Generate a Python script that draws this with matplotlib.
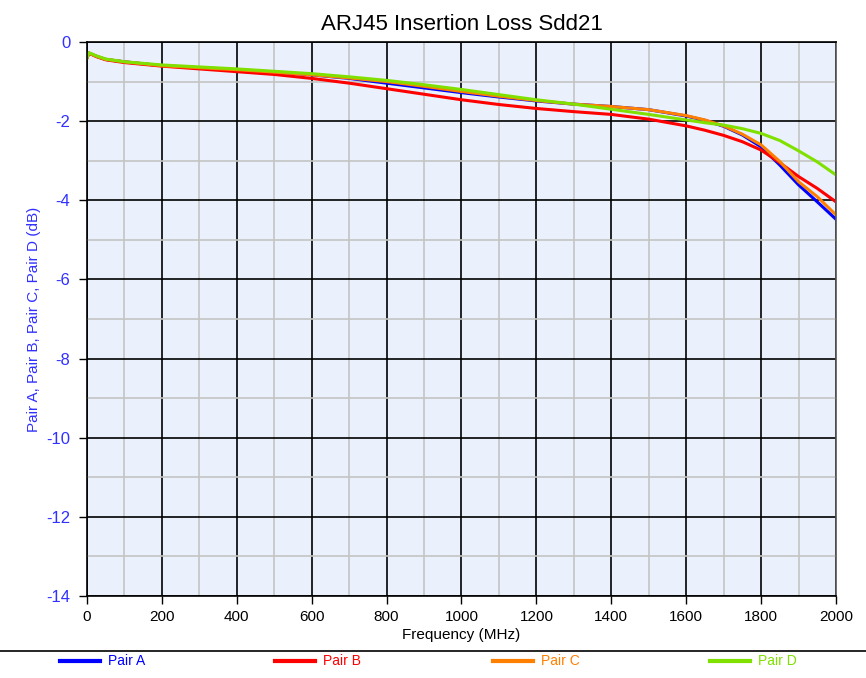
import numpy as np
import matplotlib.pyplot as plt
from matplotlib.lines import Line2D

plt.rcParams["axes.unicode_minus"] = False

# frequency points (MHz) and insertion loss per pair (dB)
freq = [0, 5, 25, 50, 100, 200, 300, 400, 500, 600, 700, 800, 900, 1000,
        1100, 1200, 1300, 1400, 1500, 1600, 1650, 1700, 1750, 1800, 1850, 1900, 1950, 2000]
pair_a = [-0.40, -0.28, -0.36, -0.44, -0.50, -0.60, -0.65, -0.70, -0.76, -0.83, -0.92, -1.04,
          -1.16, -1.28, -1.39, -1.49, -1.57, -1.63, -1.71, -1.87, -1.98, -2.13, -2.35, -2.65,
          -3.11, -3.61, -4.04, -4.48]
pair_b = [-0.40, -0.28, -0.37, -0.45, -0.52, -0.61, -0.68, -0.75, -0.82, -0.92, -1.04, -1.18,
          -1.32, -1.46, -1.58, -1.68, -1.76, -1.83, -1.95, -2.12, -2.23, -2.36, -2.52, -2.73,
          -3.05, -3.40, -3.70, -4.04]
pair_c = [-0.40, -0.28, -0.36, -0.44, -0.50, -0.60, -0.65, -0.70, -0.76, -0.83, -0.91, -1.00,
          -1.12, -1.25, -1.37, -1.48, -1.57, -1.63, -1.71, -1.86, -1.97, -2.12, -2.33, -2.60,
          -3.02, -3.53, -3.91, -4.37]
pair_d = [-0.40, -0.27, -0.35, -0.43, -0.50, -0.58, -0.63, -0.68, -0.74, -0.80, -0.88, -0.97,
          -1.08, -1.20, -1.33, -1.46, -1.57, -1.70, -1.83, -1.97, -2.04, -2.10, -2.19, -2.31,
          -2.49, -2.75, -3.03, -3.36]

names = ["Pair A", "Pair B", "Pair C", "Pair D"]
colors = ["#0000FF", "#FF0000", "#FF8000", "#80E000"]
series = [pair_a, pair_b, pair_c, pair_d]

x_ticks = list(range(0, 2001, 200))
y_ticks = list(range(0, -15, -2))

fig = plt.figure(figsize=(8.66, 6.78), dpi=100)
ax = fig.add_axes([87/866, 1 - 596/678, (836-87)/866, (596-42)/678])
ax.set_facecolor("#EAF0FC")

for name, col, vals in zip(names, colors, series):
    ax.plot(freq, vals, color=col, lw=2.2, label=name, solid_joinstyle="round")

ax.set_xlim(0, 2000)
ax.set_ylim(-14, 0)
ax.set_xticks(x_ticks)
ax.set_yticks(y_ticks)
ax.set_xticks(range(100, 2000, 200), minor=True)
ax.set_yticks(range(-13, 0, 2), minor=True)
ax.grid(True, which="major", color="black", lw=1.2)
ax.grid(True, which="minor", color="#C4C4C4", lw=1.2)
ax.set_axisbelow(True)
ax.tick_params(which="minor", length=0)
ax.tick_params(which="major", length=6, width=1, direction="out")
ax.tick_params(axis="y", colors="black", labelcolor="#3030FF", labelsize=12, pad=6)
ax.tick_params(axis="x", labelsize=11, pad=4)
for lab in ax.get_xticklabels() + ax.get_yticklabels():
    lab.set_family("Liberation Sans")
for s in ax.spines.values():
    s.set_color("black")
    s.set_linewidth(1.2)
ax.spines["right"].set_color("#555555")

ax.set_title("ARJ45 Insertion Loss Sdd21", fontsize=16, family="Liberation Sans", pad=9)
ax.set_xlabel("Frequency (MHz)", fontsize=11, family="Liberation Sans", labelpad=3)
ax.set_ylabel("Pair A, Pair B, Pair C, Pair D (dB)", fontsize=11, color="#3030FF",
              family="Liberation Sans", labelpad=4)

# separator line and legend strip at the bottom
fig.add_artist(Line2D([0, 1], [1 - 651/678, 1 - 651/678], color="black", lw=1.2))
leg_x = [60, 275, 493, 710]
yl = 1 - 661/678
for lx, name, col in zip(leg_x, names, colors):
    fig.add_artist(Line2D([lx/866, (lx+40)/866], [yl, yl], color=col, lw=3))
    fig.text((lx+48)/866, yl, name, color=col, fontsize=10, va="center",
             family="Liberation Sans")

fig.savefig("out.png", dpi=100)
